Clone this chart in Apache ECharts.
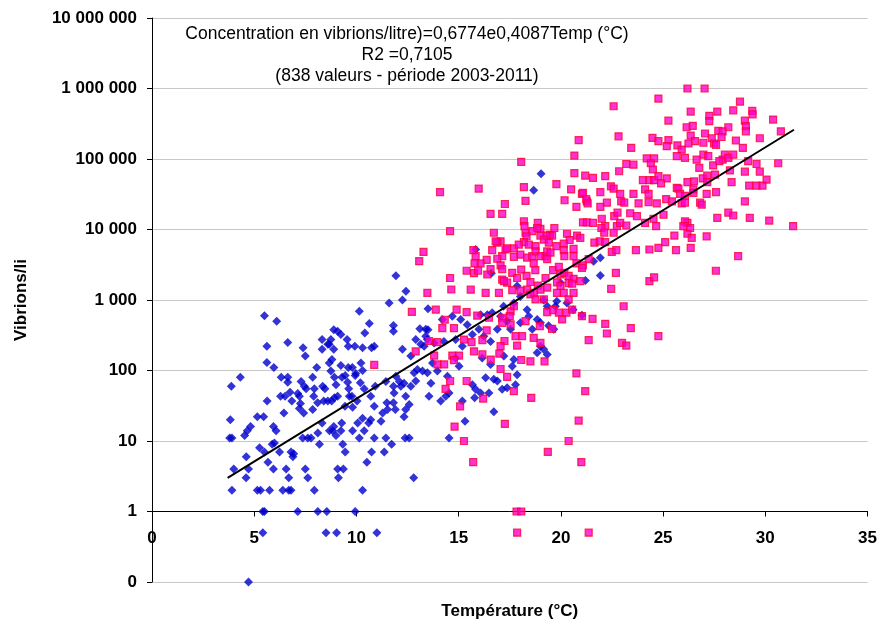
<!DOCTYPE html>
<html>
<head>
<meta charset="utf-8">
<script src="https://cdn.jsdelivr.net/npm/echarts@6/dist/echarts.min.js"></script>
<style>html,body{margin:0;padding:0;background:#fff}#c{width:880px;height:626px}</style>
</head>
<body>
<div id="c"></div>
<script>
// [température (°C), vibrions/litre]
const blueData = [
[4.72,0.1],
[5.42,0.5],[8.51,0.5],[9.03,0.5],[11.0,0.5],
[5.42,1],[5.5,1],[7.13,1],[8.11,1],[8.55,1],[9.94,1],
[3.91,2],[5.15,2],[5.31,2],[5.75,2],[6.4,2],[6.69,2],[6.8,2],[7.94,2],[10.3,2],
[4.6,3],[6.69,3],[7.62,3],[9.12,3],[12.8,3],
[4.0,4],[4.72,4],[5.94,4],[6.56,4],[7.5,4],[9.08,4],[9.36,4],
[5.67,5],[10.51,5],
[4.61,6],[6.89,6],[6.93,6.6],
[5.5,7],[6.24,7],[6.8,7],[9.45,7],[10.74,7],[11.36,7],
[5.26,8],[5.88,9],[5.99,9.4],[8.19,9],[9.33,9],[11.72,9],
[3.8,11],[3.91,11],[4.53,12],[4.66,14],[6.07,14],[7.37,11],[7.62,11],[7.78,11],[8.11,13],[8.68,14],[8.84,14],[9.0,12],[9.24,14],[9.81,14],[10.14,11],[10.38,14],[10.87,11],[11.44,11],[12.38,11],[12.58,11],
[4.82,16],[5.94,16],
[5.5,600],[6.1,500],[5.62,220],[5.62,130],[5.96,110],[4.32,80],[3.88,60],[6.64,250],[6.32,80],[6.64,80],[6.64,68],[5.63,37],[5.15,22],[5.46,22],[3.83,20],[6.29,43],[6.45,25],[6.51,43],[6.75,49],[6.84,37],[7.13,47],[7.21,43],[7.39,210],[7.5,160],[7.29,70],[7.45,60],[7.54,55],[7.26,34],[7.42,25],[7.21,29],[8.06,110],[7.86,80],[7.94,55],[7.91,43],[7.86,28],[8.1,35],[8.32,275],[8.32,200],[8.6,235],[8.35,60],[8.46,55],[8.4,37],[8.6,37],[8.32,18],[8.67,235],[8.75,275],[8.89,380],[9.08,360],[9.24,325],[8.67,128],[8.8,143],[8.89,200],[8.75,98],[8.92,80],[9.0,63],[8.79,37],[8.92,41],[9.08,43],[8.89,16],[9.24,118],[9.29,80],[9.45,85],[9.6,110],[9.8,110],[9.57,68],[9.62,55],[9.65,43],[9.78,43],[9.54,275],[9.6,220],[9.44,31],[9.28,18],[9.92,220],[9.97,91],[9.94,85],[9.81,30],[10.03,37],[10.06,18],[10.14,690],[10.41,340],[10.3,210],[10.63,465],[10.74,210],[10.87,220],[10.22,128],[10.3,100],[10.19,67],[10.38,55],[10.3,21],[10.6,18],[10.7,20],[10.87,31],[10.7,43],[10.92,60],[11.28,25],[11.2,19],[11.49,35],[11.52,28],[11.44,70],[11.6,910],[11.81,435],[11.81,360],[11.93,2200],[11.81,35],[11.9,28],[11.81,60],[11.84,48],[11.93,83],[12.1,70],[12.17,60],[12.25,1000],[12.42,1330],[13.1,390],[13.39,305],[13.5,750],[13.5,380],[12.9,275],
[12.25,200],[12.66,160],[12.82,93],[12.98,103],[13.23,98],[13.47,93],[12.33,66],[12.66,60],[12.9,71],[12.41,43],[12.58,33],[12.33,22],[12.41,28],[13.31,220],[13.8,245],[13.72,128],[13.96,98],[13.64,66],[13.55,43],
[14.12,37],[14.37,43],[14.53,48],[14.53,11],[15.31,19],[15.18,37],[16.72,26],[14.45,83],[15.02,115],[14.85,150],[15.67,63],[15.83,54],[15.78,41],[16.07,48],[16.32,79],[16.48,48],[16.72,75],[16.89,71],[17.13,54],[17.37,57],[17.78,63],[17.86,87],[17.62,115],[17.7,143],[17.21,160],[16.56,122],[16.15,150],[18.84,178],[19.0,220],[19.33,168],[19.16,200],[15.18,220],
[19.03,62000],[18.67,36000],[15.83,5200],[16.6,2400],[21.2,1890],[21.03,610],[19.98,1750],[19.8,960],[19.73,815],[20.3,910],[20.6,730],[19.16,1000],[19.33,815],[18.84,530],[19.0,475],[19.4,430],[19.65,385],[17.86,1580],[18.02,1120],[17.7,910],[18.35,730],[18.43,590],[18.02,475],[18.6,385],[17.2,815],[17.05,590],[17.37,500],[17.54,385],[16.89,385],[16.07,620],[16.4,620],[16.64,660],[15.99,385],[16.23,305],[16.56,257],[15.67,325],[14.69,590],[14.2,530],[15.1,530],[15.42,445],[14.85,275],[14.28,257],[13.39,385],[13.47,275],[13.15,235],
[21.6,3550],[21.93,3970],[21.93,2230]
];

const pinkData = [
[26.19,1000000],[27.03,1000000],[24.77,720000],[22.58,560000],[28.76,650000],
[26.35,470000],[27.65,470000],[28.43,490000],[29.36,480000],[29.38,430000],
[27.26,410000],[27.26,345000],[25.26,350000],[30.38,363000],
[26.15,282000],[26.45,295000],[27.7,250000],[28.19,282000],[29.0,350000],[29.05,292000],[29.05,247000],[30.76,247000],
[20.87,185000],[22.82,210000],
[24.48,199000],[24.77,179000],[25.26,185000],[26.35,215000],[26.56,179000],[27.05,230000],[27.91,247000],[27.86,205000],[27.38,197000],[28.56,183000],[29.73,197000],
[25.18,152000],[25.7,156000],[25.91,136000],[26.24,166000],[26.97,170000],[27.49,166000],[27.59,159000],[28.9,144000],
[23.44,144000],[20.66,112000],[18.06,91000],
[24.2,102000],[24.56,102000],[25.67,110000],[26.07,104000],[26.64,98000],[26.97,115000],[27.21,110000],[27.91,98000],[28.02,115000],[28.19,104000],[28.43,115000],[29.16,93000],[30.63,87000],
[23.2,85000],[23.55,83000],[24.4,87000],[24.5,71000],[26.77,75000],[27.45,81000],[27.75,93000],[28.27,69000],[29.57,85000],[29.0,66000],[29.73,66000],[30.06,51000],[29.21,42000],[29.57,42000],[29.86,42000],
[20.66,63000],[21.19,58000],[21.57,54000],[22.17,57000],[22.85,67000],
[24.01,50000],[24.33,50000],[24.56,50000],[24.77,57000],[25.18,53000],[24.9,45000],[25.67,39000],[26.19,47000],[26.51,48000],[26.48,37000],[26.94,53000],[27.16,58000],[27.16,47000],[27.54,60000],[28.35,47000],
[22.45,41000],[22.58,38000],[20.5,37000],[21.03,32000],[21.93,34000],[22.9,32000],[23.55,32000],[24.12,37000],[24.29,32000],[25.75,38000],[25.83,32000],[26.07,30000],[26.48,33000],[27.13,32000],[27.59,34000],[26.81,24000],[26.89,22500],
[20.18,26000],[20.76,21000],[21.27,25000],[21.93,21000],[22.25,24000],[22.95,25000],[23.1,24000],[23.8,23500],[24.29,24500],[24.69,23500],[25.15,27000],[25.43,25000],[25.91,23500],[26.07,24000],[29.0,25000],
[16.56,16700],[17.13,16700],[17.26,23000],[18.27,25500],[18.19,40000],[15.98,38000],[14.09,34000],
[18.87,12400],[19.0,10200],[19.46,8500],[20.3,8700],[20.79,8200],[20.95,7600],[21.08,12600],[21.27,12600],[21.57,12400],[22.0,14200],[22.17,11200],[22.61,15500],[22.77,17300],[22.74,11200],[22.9,12400],[23.2,11400],[23.39,17000],[23.72,15500],[24.12,12400],[24.66,11200],[24.53,14200],[25.02,16200],[26.19,12400],[26.32,10500],[27.13,8000],[27.65,14600],[28.19,17300],[28.43,15800],[29.24,14600],[30.19,13400],[31.36,11200],[28.67,4200],[27.58,2600],
[24.33,5200],[24.77,5500],[25.1,6600],[25.63,5100],[26.19,8700],[26.35,5500],[25.55,8200],[26.07,13000],[25.99,11200],[26.4,7600],[23.67,5100],
[24.33,1850],[24.56,2100],[23.07,815],[23.42,400],[24.77,307],[22.99,246],[23.2,226],[22.46,1440],[22.17,460],[22.25,335],[21.55,540],[21.36,270],[22.69,2430],
[14.58,9500],[19.78,44000],[21.08,33000],[21.24,27000],[21.31,23500],
[21.98,10500],[22.12,9000],[22.58,9000],
[21.64,6500],[21.9,6800],[22.17,6600],[22.49,4800],[22.71,5100],
[21.36,3800],[21.08,3100],[20.76,3300],[20.62,4200],[20.62,5300],[20.43,7100],[20.14,6300],[20.14,5100],[20.17,4200],[19.78,5800],[19.68,10500],
[19.57,8200],[19.29,8200],[19.0,8200],[18.84,10500],[18.6,9500],
[18.19,13100],[18.22,11200],[18.27,9000],[18.32,8000],[18.19,6600],[18.43,6100],[18.76,5800],[19.17,7200],[19.41,6500],
[18.02,4400],[18.35,4000],[18.6,4200],[18.76,4900],[19.0,4200],[19.25,4200],[19.33,4900],[19.49,4700],
[18.67,3300],[18.75,2650],[19.33,3800],[19.62,2650],[19.9,2950],[19.98,2300],[20.17,2430],[20.38,2200],[20.62,2000],[20.95,1850],[21.03,2850],
[17.05,6800],[16.89,6500],[17.29,5200],[17.37,5400],[17.7,5400],[17.94,6100],[17.7,4100],[17.13,4200],
[16.72,9000],[16.81,6800],[16.64,5100],[16.37,3700],[16.07,3300],[15.83,4200],[15.72,5100],[15.78,3300],[15.39,2600],[15.75,2400],[15.95,2600],
[16.56,2750],[16.4,2300],[16.89,3850],[17.05,3100],[17.13,2750],[17.13,1950],[17.37,1760],[17.62,2430],[17.86,2050],[18.06,2700],[18.32,2200],[18.51,1800],[18.87,1600],[19.0,1400],[19.25,2050],[19.33,1500],[18.35,1400],[18.68,1260],
[19.81,1780],[19.98,1580],[20.38,1740],[20.55,1700],[20.14,1260],[19.81,1260],[20.38,1020],[20.62,1260],
[15.59,1400],[16.32,1260],[16.97,1260],[17.21,1850],[17.62,1380],[18.02,1360],[17.7,815],[17.54,690],[17.13,560],[17.13,475],[17.5,590],[17.54,450],[18.27,500],[18.51,1200],[18.76,1020],[19.17,1020],[19.33,675],[19.62,720],[19.9,660],[20.06,530],[20.27,660],[20.55,730],[21.03,590],[19.57,390],[18.97,425],[18.67,290],[19.0,246],[18.1,307],[17.78,307],[17.86,226],[17.24,262],[17.05,221],[15.91,600],[16.48,560],[16.37,372],[16.16,270],[16.16,170],[15.63,252],[15.26,275],[15.39,675],[14.9,730],[14.77,400],[14.2,400],[14.32,525],[13.88,730],[13.47,1260],[14.64,1410],[14.58,2050],[13.55,262],[13.96,252],[13.07,3550],[13.28,4800],[12.71,680],[12.9,187],
[13.8,163],[14.69,163],[15.02,163],[16.99,174],[15.75,187],[13.96,122],[14.29,122],[14.58,71],[14.36,55],[14.77,140],[15.39,71],[15.07,31],[14.8,16],[15.26,10],[15.71,5],[16.2,40],[16.57,143],[17.05,105],[17.37,81],[17.7,51],[18.06,141],[18.51,135],[19.2,135],[17.26,17.5],[18.55,41],[20.76,91],[21.19,51],[20.87,19.5],[20.38,10],[19.36,7],[21.0,5],[17.83,1],[18.06,1],[17.86,0.5],[21.36,0.5],
[10.87,120]
];

// Courbe de tendance exponentielle (extrémités)
const trendData = [[3.7, 3.0], [31.4, 260000]];

const annotationLines = [
  'Concentration en vibrions/litre)=0,6774e0,4087Temp (°C)',
  'R2 =0,7105',
  '(838 valeurs - période 2003-2011)'
];
const xName = 'Température (°C)';
const yName = 'Vibrions/li';

const FONT = 'Liberation Sans, Arial, sans-serif';
const chart = echarts.init(document.getElementById('c'), null, {renderer: 'canvas'});

function fmtY(v) {
  if (v < 1) return '0';
  return String(Math.round(v)).replace(/\B(?=(\d{3})+(?!\d))/g, ' ');
}

chart.setOption({
  animation: false,
  backgroundColor: '#fff',
  grid: {left: 152, right: 12, top: 18, bottom: 44, containLabel: false},
  xAxis: {
    type: 'value', min: 0, max: 35, interval: 5,
    offset: -70.5,
    name: xName, nameLocation: 'middle', nameGap: 91,
    nameTextStyle: {fontFamily: FONT, fontSize: 17, fontWeight: 'bold', color: '#000'},
    axisLine: {show: true, lineStyle: {color: '#000', width: 1}},
    axisTick: {show: true, length: 5, lineStyle: {color: '#000'}},
    axisLabel: {fontFamily: FONT, fontSize: 17, fontWeight: 'bold', color: '#000', margin: 18},
    splitLine: {show: false}
  },
  yAxis: {
    type: 'log', logBase: 10, min: 0.1, max: 10000000,
    name: yName, nameLocation: 'middle', nameGap: 122, nameRotate: 90,
    nameTextStyle: {fontFamily: FONT, fontSize: 17, fontWeight: 'bold', color: '#000'},
    axisLine: {show: true, lineStyle: {color: '#000', width: 1}},
    axisTick: {show: true, length: 5, lineStyle: {color: '#000'}},
    axisLabel: {fontFamily: FONT, fontSize: 17, fontWeight: 'bold', color: '#000', margin: 15, formatter: fmtY},
    splitLine: {show: true, lineStyle: {color: '#c8c8c8', width: 1}},
    minorTick: {show: false}
  },
  graphic: annotationLines.map((t, i) => ({
    type: 'text', x: 407, y: [34, 55, 76][i], z: 100,
    style: {text: t, fontFamily: FONT, fontSize: 17.5, fill: '#000', align: 'center', verticalAlign: 'middle', textAlign: 'center', textVerticalAlign: 'middle'}
  })),
  series: [
    {
      type: 'scatter', name: 'blue', data: blueData, symbol: 'diamond', symbolSize: 9,
      itemStyle: {color: '#0000CC'}, z: 2
    },
    {
      type: 'scatter', name: 'pink', data: pinkData, symbol: 'rect', symbolSize: 7,
      itemStyle: {color: '#FF00CC', borderColor: '#FF0033', borderWidth: 1.2}, z: 3
    },
    {
      type: 'line', name: 'trend', data: trendData, symbol: 'none', silent: true,
      lineStyle: {color: '#000', width: 2}, z: 4
    }
  ]
});
</script>
</body>
</html>
